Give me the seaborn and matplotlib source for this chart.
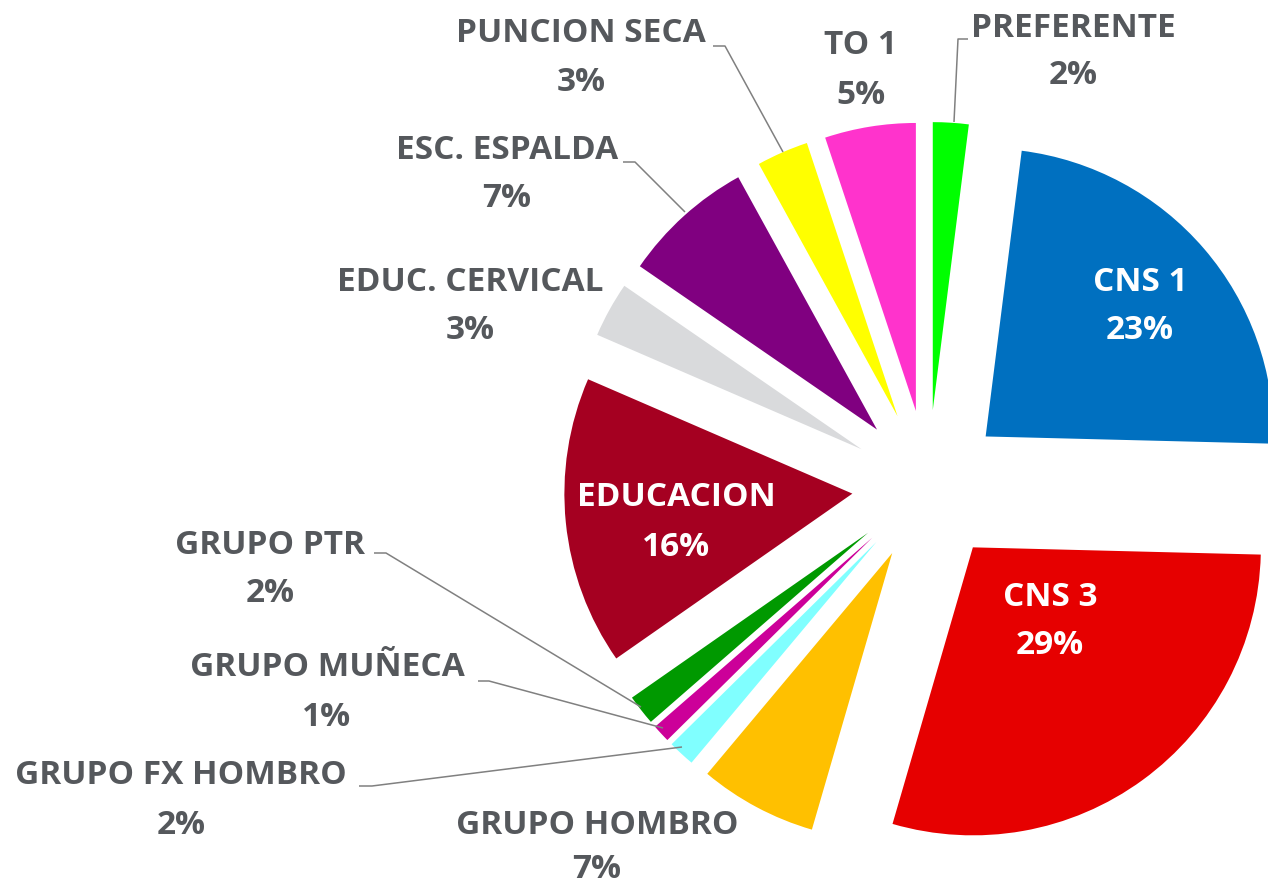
import matplotlib
matplotlib.use("Agg")
import matplotlib.pyplot as plt
import seaborn as sns

# ---- data ----
categories = ["PREFERENTE", "CNS 1", "CNS 3", "GRUPO HOMBRO", "GRUPO FX HOMBRO",
              "GRUPO MUÑECA", "GRUPO PTR", "EDUCACION", "EDUC. CERVICAL",
              "ESC. ESPALDA", "PUNCION SECA", "TO 1"]
values = [2.0, 23.4, 29.1, 6.6, 1.5, 1.0, 1.7, 16.2, 3.1, 7.4, 2.9, 5.1]
pct_labels = ["2%", "23%", "29%", "7%", "2%", "1%", "2%", "16%", "3%", "7%", "3%", "5%"]
colors = ["#00ff00", "#0070c0", "#e60000", "#ffc000", "#80ffff", "#cc0099",
          "#009900", "#a50021", "#d9dadc", "#800080", "#ffff00", "#ff33cc"]

# ---- layout (image pixel coords, y down) ----
W, H = 1268, 886
CX, CY, R, D = 928, 486, 288, 76
label_pos = {  # name center x, name y, pct y
    "PREFERENTE": (1073, 28, 75),
    "CNS 1": (1140, 282, 330),
    "CNS 3": (1050, 598, 645),
    "GRUPO HOMBRO": (597, 825, 870),
    "GRUPO FX HOMBRO": (181, 775, 825),
    "GRUPO MUÑECA": (327, 668, 718),
    "GRUPO PTR": (270, 545, 593),
    "EDUCACION": (676, 497, 548),
    "EDUC. CERVICAL": (470, 282, 330),
    "ESC. ESPALDA": (507, 150, 198),
    "PUNCION SECA": (581, 33, 82),
    "TO 1": (861, 45, 95),
}
inside = {"CNS 1", "CNS 3", "EDUCACION"}
leaders = {
    "PREFERENTE": [(968, 39), (958, 39), (954, 122)],
    "PUNCION SECA": [(713, 46), (725, 46), (783, 152)],
    "ESC. ESPALDA": [(623, 162), (635, 162), (685, 212)],
    "GRUPO PTR": [(374, 553), (386, 553), (641, 707)],
    "GRUPO MUÑECA": [(478, 681), (489, 681), (663, 728)],
    "GRUPO FX HOMBRO": [(359, 786), (372, 786), (682, 747)],
}

sns.set_theme(style="white")
plt.rcParams['font.family'] = ['Open Sans', 'DejaVu Sans']

fig = plt.figure(figsize=(12.68, 8.86), dpi=100)
ax = fig.add_axes([0, 0, 1, 1])


def P(x, y):
    return x, H - y


# matplotlib's explode offset is absolute (data units)
ax.pie(values, colors=colors, startangle=90, counterclock=False,
       explode=[D] * len(values), radius=R, center=P(CX, CY),
       wedgeprops=dict(linewidth=0))
ax.set_xlim(0, W)
ax.set_ylim(0, H)
ax.set_aspect('equal')
ax.axis('off')

txt_color = "#55585c"
fs = 24
for cat, pct in zip(categories, pct_labels):
    x, y1, y2 = label_pos[cat]
    c = "white" if cat in inside else txt_color
    ax.text(*P(x, y1), cat, ha='center', va='center', fontsize=fs,
            fontweight='bold', color=c)
    ax.text(*P(x, y2), pct, ha='center', va='center', fontsize=fs,
            fontweight='bold', color=c)

for cat, pts in leaders.items():
    xs = [p[0] for p in pts]
    ys = [H - p[1] for p in pts]
    ax.plot(xs, ys, color="#808080", lw=1.1, solid_capstyle='butt')

fig.savefig("out.png", dpi=100, facecolor="white")
